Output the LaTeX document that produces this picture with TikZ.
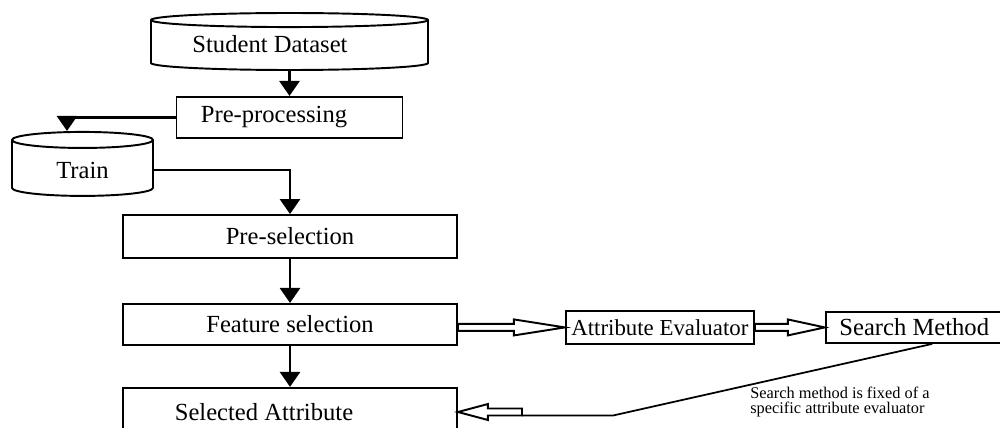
\documentclass[tikz,border=0pt]{standalone}
\usepackage{fontspec}
\setmainfont{Liberation Serif}
\usetikzlibrary{arrows.meta,positioning,shapes.geometric,calc}

% hollow block arrow: tail, tip, head length
\newcommand{\hollowarrow}[3]{%
  \coordinate (hb) at ($#2!#3!#1$);
  \draw[hollow] ($#1!0.07cm!90:#2$) -- ($(hb)!0.07cm!-90:#1$)
    -- ($(hb)!0.16cm!-90:#1$) -- #2 -- ($(hb)!0.16cm!90:#1$)
    -- ($(hb)!0.07cm!90:#1$) -- ($#1!0.07cm!-90:#2$) -- cycle;}

\begin{document}
\begin{tikzpicture}[
    x=0.02cm, y=-0.02cm,
    font=\fontsize{14}{16}\selectfont,
    block/.style={rectangle, draw, line width=1.1pt, inner sep=2pt},
    small block/.style={block, font=\fontsize{13}{15}\selectfont},
    store/.style={cylinder, shape border rotate=90, draw, line width=1.1pt},
    arrow/.style={-{Triangle[length=0.3cm, width=0.4cm]}, line width=1.6pt},
    hollow/.style={draw, line width=1.1pt, fill=white, line join=miter},
    note/.style={font=\fontsize{9.3}{8.3}\selectfont, align=left, inner sep=0pt}
]
    \useasboundingbox (0,0) rectangle (1000,427);

    \node[store, minimum width=5.54cm, minimum height=1.14cm, aspect=1.2,
          label={[xshift=-0.39cm, yshift=0.04cm]center:Student Dataset}] (sd) at (289.5,46.5) {};
    \node[block, minimum width=4.52cm, minimum height=0.82cm, below=0.5cm of sd,
          label={[xshift=-0.31cm]center:Pre-processing}] (pp) {};
    \node[store, minimum width=2.82cm, minimum height=1.28cm, aspect=0.25] (tr) at (82.5,170) {Train};
    \node[block, minimum width=6.68cm, minimum height=0.86cm] (ps) at (290,236.5) {Pre-selection};
    \node[block, minimum width=6.68cm, minimum height=0.82cm, below=0.88cm of ps] (fs) {Feature selection};
    \node[block, minimum width=6.68cm, minimum height=0.88cm, below=0.82cm of fs,
          label={[xshift=-0.52cm, yshift=-0.04cm]center:Selected Attribute}] (sa) {};
    \node[small block, minimum width=3.76cm, minimum height=0.66cm, right=2.14cm of fs, yshift=-0.06cm] (ae) {Attribute Evaluator};
    \node[small block, minimum width=3.66cm, minimum height=0.62cm, right=1.4cm of ae,
          label={[xshift=-0.06cm]center:Search Method}] (sm) {};
    \node[note, anchor=west] (nt) at (750,402) {Search method is fixed of a\\specific attribute evaluator};

    \coordinate (fb) at (522,412);
    \coordinate (bend) at (613,415.5);

    \draw[arrow] (sd.south) -- (sd.south |- pp.north);
    \draw[arrow] (pp.west) -| ([xshift=-0.31cm]tr.north);
    \draw[arrow] (tr.east) -| (ps.north);
    \draw[arrow] (ps.south) -- (fs.north);
    \draw[arrow] (fs.south) -- (sa.north);

    \hollowarrow{(fs.east |- ae.west)}{(ae.west)}{1.02cm}
    \hollowarrow{(ae.east)}{(sm.west)}{0.74cm}
    \draw[line width=1pt] ([xshift=0.3cm]sm.south) -- (bend) -- ($(fb)+(0,3.5)$);
    \hollowarrow{(fb)}{(sa.east |- fb)}{0.6cm}
\end{tikzpicture}
\end{document}
